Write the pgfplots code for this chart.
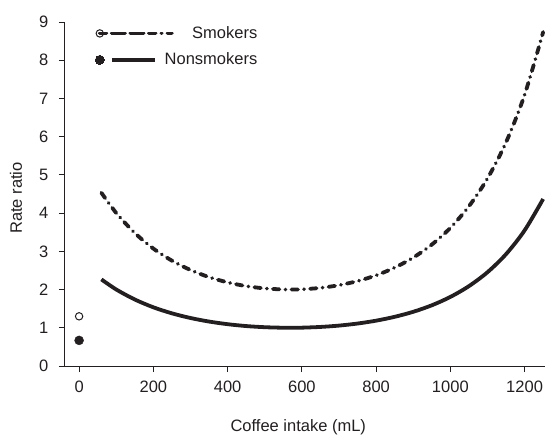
\documentclass[border=0pt]{standalone}
\usepackage{fontspec}
\setmainfont{Liberation Sans}
\usepackage{pgfplots}
\pgfplotsset{compat=1.18}
\definecolor{ink}{RGB}{35,31,32}
\begin{document}
\fontsize{16.5}{19}\selectfont
\begin{tikzpicture}
\begin{axis}[
  scale only axis, width=480pt, height=344pt,
  xmin=-38, xmax=1255, ymin=0, ymax=9,
  axis lines=left, axis line style={ink, line width=1pt, -},
  xtick={0,200,...,1200}, ytick={0,1,...,9},
  tick align=outside, major tick length=6pt,
  tick style={ink, line width=1pt},
  /pgf/number format/assume math mode=true,
  /pgf/number format/1000 sep={},
  tick label style={font=\fontsize{16.5}{19}\selectfont, text=ink},
  xticklabel style={yshift=-3pt},
  yticklabel style={xshift=-5pt},
  xlabel={Coffee intake (mL)}, ylabel={Rate ratio},
  label style={font=\fontsize{16.5}{19}\selectfont, text=ink},
  xlabel style={at={(axis description cs:0.486,0)}, anchor=base, yshift=-65pt},
  ylabel style={at={(axis description cs:-0.102,0.488)}, anchor=center},
  clip=false,
  legend cell align=right,
  legend style={draw=none, fill=none, at={(axis cs:35,9.0)}, anchor=north west,
    font=\fontsize{16.5}{19}\selectfont, text=ink, row sep=8pt, column sep=6pt},
]
\addplot[ink, line width=3.8pt, smooth, line cap=round,
  dash pattern=on 6.5pt off 6pt on 0.1pt off 6pt,
  legend image code/.code={
    \draw[ink, solid, line width=1pt, fill=white] (0pt,0pt) circle (3.7pt);
    \draw[ink, overlay, line width=3.8pt, line cap=round, dash pattern=on 6.5pt off 6pt on 0.1pt off 6pt] (12pt,0pt) -- (72pt,0pt);
    \path (0pt,0pt) -- (55pt,0pt);
  }] coordinates {
(60,4.532) (100,4.004) (150,3.480) (200,3.072) (250,2.756) (300,2.512)
(350,2.326) (400,2.188) (450,2.090) (500,2.030) (550,2.002) (568,2.000)
(600,2.006) (650,2.044) (700,2.114) (750,2.222) (800,2.372) (850,2.574)
(900,2.836) (950,3.176) (1000,3.614) (1050,4.178) (1100,4.906) (1150,5.852)
(1200,7.094) (1250,8.738)
};
\addlegendentry{Smokers}
\addplot[ink, line width=3.8pt, smooth,
  legend image code/.code={
    \draw[ink, solid, line width=0pt, fill=ink] (0pt,0pt) circle (4.5pt);
    \draw[ink, solid, line width=3.8pt] (12pt,0pt) -- (55pt,0pt);
  }] coordinates {
(60,2.266) (100,2.002) (150,1.740) (200,1.536) (250,1.378) (300,1.256)
(350,1.163) (400,1.094) (450,1.045) (500,1.015) (550,1.001) (568,1.000)
(600,1.003) (650,1.022) (700,1.057) (750,1.111) (800,1.186) (850,1.287)
(900,1.418) (950,1.588) (1000,1.807) (1050,2.089) (1100,2.453) (1150,2.926)
(1200,3.547) (1250,4.369)
};
\addlegendentry{Nonsmokers}
\addplot[forget plot, only marks, mark=*, mark size=3.7pt, mark options={ink, fill=white, line width=1pt}] coordinates {(0,1.30)};
\addplot[forget plot, only marks, mark=*, mark size=4.5pt, mark options={ink, fill=ink}] coordinates {(0,0.67)};
\end{axis}
\pgfresetboundingbox
\path (current axis.south west) ++(-65pt,-68pt) rectangle ++(545pt,434pt);
\end{tikzpicture}
\end{document}
